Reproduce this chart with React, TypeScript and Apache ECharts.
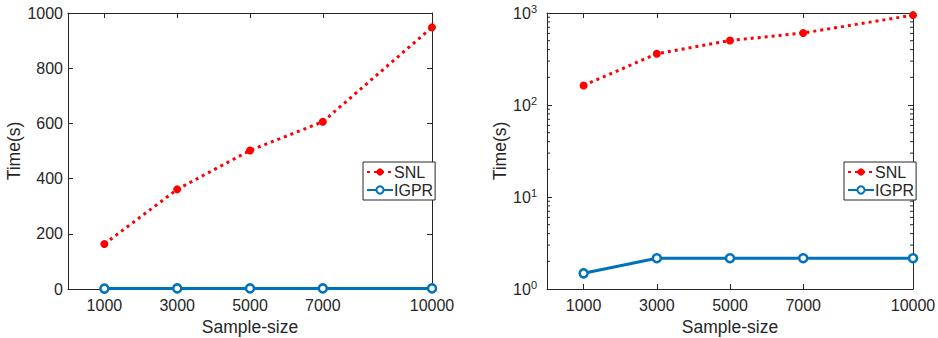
import React, { useEffect, useRef } from 'react';
import * as echarts from 'echarts';

const sampleSizes = [1000, 3000, 5000, 7000, 10000];
const snlTimes = [163, 361, 502, 606, 948];
const igprTimes = [1.48, 2.16, 2.16, 2.16, 2.16];
const linearYMax = 1000;
const linearYInterval = 200;
const logMinorTicks = [2, 3, 4, 5, 6, 7, 8, 9, 20, 30, 40, 50, 60, 70, 80, 90, 200, 300, 400, 500, 600, 700, 800, 900];

const INK = '#262626';
const RED = '#ff0000';
const BLUE = '#0072bd';
const FONT = 'Liberation Sans, Arial, Helvetica, sans-serif';

export default function App() {
  const ref = useRef<HTMLDivElement>(null);
  useEffect(() => {
    document.body.style.margin = '0';
    const chart = echarts.init(ref.current!, null, { renderer: 'svg' });
    const tickBase = { show: true, inside: true, length: 5, lineStyle: { color: INK, width: 1 } };
    const lineBase = { show: true, onZero: false, lineStyle: { color: INK, width: 1 } };
    const labelBase = { color: INK, fontSize: 16, fontFamily: FONT, formatter: (v: number) => String(v) };
    const nameStyle = { color: INK, fontSize: 17.5, fontFamily: FONT };

    const mkX = (grid: number, pos: 'bottom' | 'top') => ({
      type: 'value', gridIndex: grid, position: pos, min: 0, max: 10000,
      axisLine: lineBase,
      axisTick: { ...tickBase, customValues: sampleSizes },
      axisLabel: pos === 'bottom' ? { ...labelBase, margin: 8, customValues: sampleSizes } : { show: false },
      splitLine: { show: false },
      name: pos === 'bottom' ? 'Sample-size' : '',
      nameLocation: 'middle', nameGap: 27, nameTextStyle: nameStyle,
    });

    const supFmt = (v: number) => {
      const e = Math.round(Math.log10(v));
      return '{b|10}{s|' + e + '}';
    };

    const legendBase = {
      orient: 'vertical', data: ['SNL', 'IGPR'],
      borderColor: INK, borderWidth: 1, padding: [2, 2, 2, 3], itemGap: 2,
      itemWidth: 26, itemHeight: 9, backgroundColor: '#fff', selectedMode: false,
      textStyle: { color: INK, fontSize: 16, fontFamily: FONT, padding: [0, 0, 0, -4] },
    };

    const option: any = {
      animation: false,
      grid: [
        { left: 68, top: 13, width: 364, height: 276, outerBoundsMode: 'none', containLabel: false },
        { left: 547, top: 13, width: 366, height: 276, outerBoundsMode: 'none', containLabel: false },
      ],
      xAxis: [mkX(0, 'bottom'), mkX(0, 'top'), mkX(1, 'bottom'), mkX(1, 'top')],
      yAxis: [
        {
          type: 'value', gridIndex: 0, position: 'left', min: 0, max: linearYMax, interval: linearYInterval,
          axisLine: lineBase, axisTick: tickBase, axisLabel: { ...labelBase, margin: 5 },
          splitLine: { show: false },
          name: 'Time(s)', nameLocation: 'middle', nameGap: 45, nameTextStyle: nameStyle,
        },
        {
          type: 'value', gridIndex: 0, position: 'right', min: 0, max: linearYMax, interval: linearYInterval,
          axisLine: lineBase, axisTick: tickBase, axisLabel: { show: false }, splitLine: { show: false },
        },
        {
          type: 'log', logBase: 10, gridIndex: 1, position: 'left', min: 1, max: 1000,
          axisLine: lineBase, axisTick: tickBase,
          axisLabel: {
            color: INK, fontSize: 16, fontFamily: FONT, margin: 10, formatter: supFmt,
            rich: {
              b: { fontSize: 16, fontFamily: FONT, color: INK },
              s: { fontSize: 11, fontFamily: FONT, color: INK, padding: [0, 0, 9, 0] },
            },
          },
          splitLine: { show: false },
          name: 'Time(s)', nameLocation: 'middle', nameGap: 34, nameTextStyle: nameStyle,
        },
        {
          type: 'log', logBase: 10, gridIndex: 1, position: 'right', min: 1, max: 1000,
          axisLine: lineBase, axisTick: tickBase, axisLabel: { show: false }, splitLine: { show: false },
        },
      ],
      legend: [
        { ...legendBase, left: 363, top: 162 },
        { ...legendBase, left: 844, top: 162 },
      ],
      series: [
        {
          name: 'SNL', type: 'line', xAxisIndex: 0, yAxisIndex: 0,
          data: sampleSizes.map((x, i) => [x, snlTimes[i]]),
          lineStyle: { color: RED, width: 3, type: [3, 4] }, itemStyle: { color: RED },
          symbol: 'circle', symbolSize: 8, z: 3,
        },
        {
          name: 'IGPR', type: 'line', xAxisIndex: 0, yAxisIndex: 0,
          data: sampleSizes.map((x, i) => [x, igprTimes[i]]),
          lineStyle: { color: BLUE, width: 3 }, itemStyle: { color: '#fff', borderColor: BLUE, borderWidth: 2.5 },
          symbol: 'circle', symbolSize: 8, showAllSymbol: true, z: 2,
        },
        {
          name: 'SNL', type: 'line', xAxisIndex: 2, yAxisIndex: 2,
          data: sampleSizes.map((x, i) => [x, snlTimes[i]]),
          lineStyle: { color: RED, width: 3, type: [3, 4] }, itemStyle: { color: RED },
          symbol: 'circle', symbolSize: 8, z: 3,
        },
        {
          name: 'IGPR', type: 'line', xAxisIndex: 2, yAxisIndex: 2,
          data: sampleSizes.map((x, i) => [x, igprTimes[i]]),
          lineStyle: { color: BLUE, width: 3 }, itemStyle: { color: '#fff', borderColor: BLUE, borderWidth: 2.5 },
          symbol: 'circle', symbolSize: 8, showAllSymbol: true, z: 2,
        },
        {
          type: 'custom', xAxisIndex: 2, yAxisIndex: 2, silent: true,
          data: logMinorTicks.map((v) => [0, v]),
          renderItem: (params: any, api: any) => {
            const y = api.coord([0, api.value(1)])[1];
            const cs = params.coordSys;
            const style = { stroke: INK, lineWidth: 1 };
            return {
              type: 'group',
              children: [
                { type: 'line', shape: { x1: cs.x, y1: y, x2: cs.x + 3, y2: y }, style },
                { type: 'line', shape: { x1: cs.x + cs.width - 3, y1: y, x2: cs.x + cs.width, y2: y }, style },
              ],
            };
          },
        },
      ],
    };
    chart.setOption(option);
    return () => chart.dispose();
  }, []);
  return <div ref={ref} style={{ width: 938, height: 338, position: 'absolute', left: 0, top: 0, background: '#fff' }} />;
}
